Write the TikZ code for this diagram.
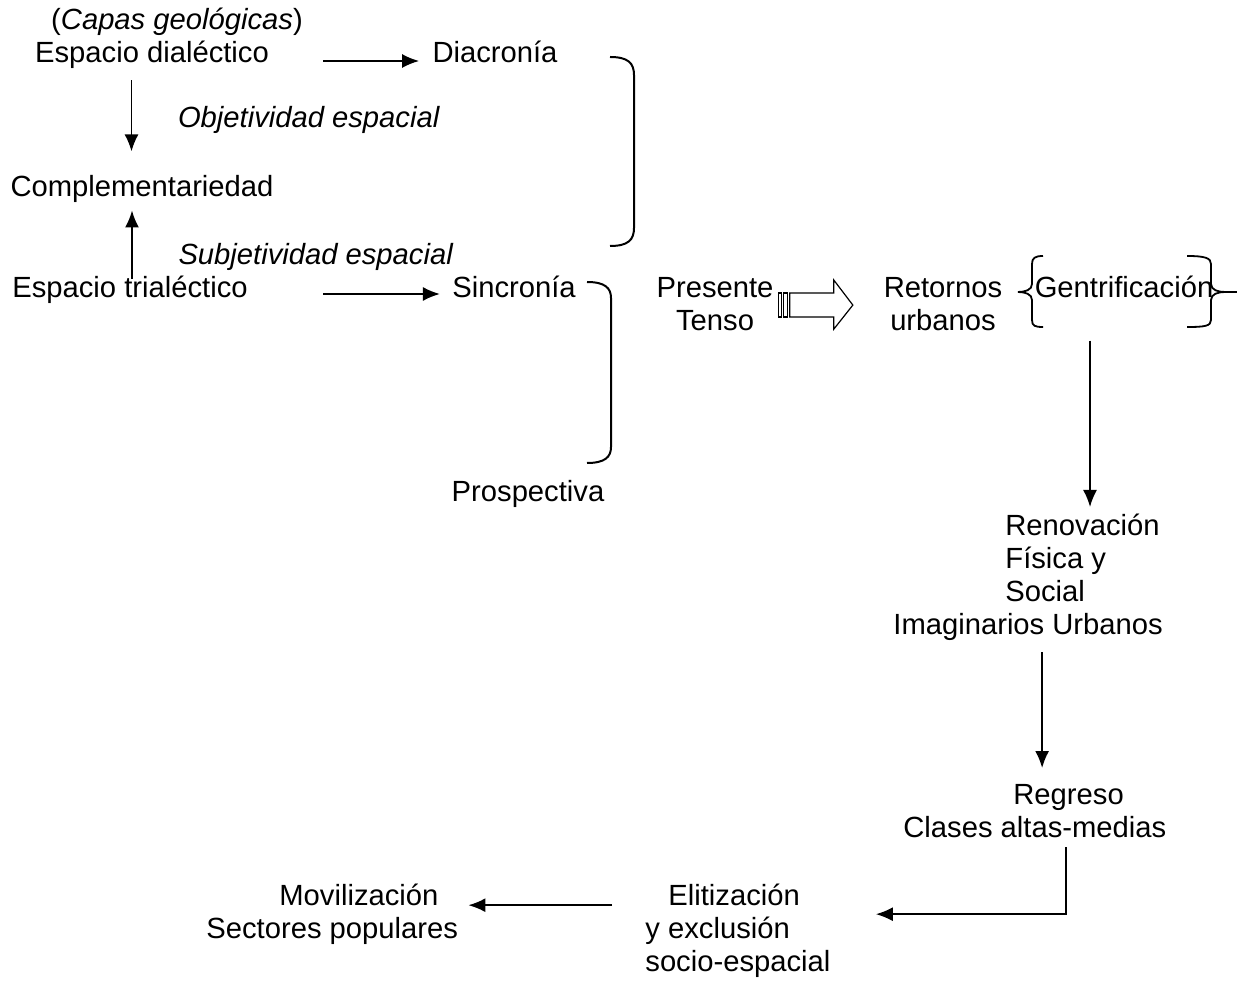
\documentclass[tikz,border=0pt]{standalone}
\usepackage{fontspec}
\setmainfont{Liberation Sans}
\usetikzlibrary{arrows.meta}

\begin{document}
\begin{tikzpicture}[x=0.5pt, y=-0.5pt,
        lbl/.style={inner sep=0pt, font=\fontsize{14.6}{16.5}\selectfont},
        multi/.style={lbl, align=left, anchor=north west},
        arr/.style={-{Latex[length=8.5pt,width=7pt]}, line width=0.9pt},
        brack/.style={line width=1pt}]

        \useasboundingbox (0,0) rectangle (1241,983);

        % left column
        \node[lbl, anchor=base] (capas) at (177,30) {(\textit{Capas geológicas})};
        \node[lbl, anchor=base] (dialect) at (152,63) {Espacio dialéctico};
        \node[lbl, anchor=base] (objet) at (309,128) {\textit{Objetividad espacial}};
        \node[lbl, anchor=base] (compl) at (142,197) {Complementariedad};
        \node[lbl, anchor=base] (subjet) at (316,265) {\textit{Subjetividad espacial}};
        \node[lbl, anchor=base] (trial) at (130,298) {Espacio trialéctico};

        % time
        \node[lbl, anchor=base] (diacr) at (495,63) {Diacronía};
        \node[lbl, anchor=base] (sincr) at (514,298) {Sincronía};
        \node[lbl, anchor=base] (prosp) at (528,502) {Prospectiva};

        % presente tenso
        \node[lbl, align=center, anchor=north] (pres) at (715,277) {Presente\\Tenso};
        \node[lbl, align=center, anchor=north] (retor) at (943,277) {Retornos\\urbanos};
        \node[lbl, anchor=base] (gentr) at (1124,298) {Gentrificación};

        % right column
        \node[multi] (renov) at (893,514) {\hspace*{56pt}Renovación\\\hspace*{56pt}Física y\\\hspace*{56pt}Social\\Imaginarios Urbanos};
        \node[multi] (regr) at (903,784) {\hspace*{55pt}Regreso\\Clases altas-medias};

        % bottom row
        \node[multi] (elit) at (645,884) {\hspace*{11.5pt}Elitización\\y exclusión\\socio-espacial};
        \node[multi] (movil) at (206,884) {\hspace*{36.5pt}Movilización\\Sectores populares};

        % arrows left
        \draw[arr] ([xshift=27pt,yshift=1pt]dialect.base east) -- ([xshift=-6.5pt,yshift=1pt]diacr.base west);
        \draw[arr] ([xshift=37.5pt,yshift=2pt]trial.base east) -- ([xshift=-6pt,yshift=2pt]sincr.base west);
        \draw[arr] ([xshift=-10.25pt,yshift=-5.5pt]dialect.south) coordinate (d1) -- ([yshift=12pt]compl.north -| d1);
        \draw[arr] ([xshift=1pt,yshift=-1.5pt]trial.north) coordinate (t1) -- ([yshift=-3.5pt]compl.south -| t1);

        % brackets
        \draw[brack] (610,57) .. controls (628,57) and (634,63) .. (634,75) -- (634,228)
            .. controls (634,240) and (628,246) .. (610,246);
        \draw[brack] (587,282) .. controls (605,282) and (611,288) .. (611,298) -- (611,447)
            .. controls (611,457) and (605,463) .. (587,463);

        % braces round Gentrificacion
        \draw[line width=0.9pt] (1043,256) .. controls (1035,256) and (1032,258) .. (1032,264) -- (1032,284)
            .. controls (1032,290) and (1025,292) .. (1018,292)
            .. controls (1025,292) and (1032,294) .. (1032,300) -- (1032,320)
            .. controls (1032,326) and (1035,327) .. (1043,327);
        \draw[line width=0.9pt] (1187,256) .. controls (1205,256) and (1211,258) .. (1211,264) -- (1211,284)
            .. controls (1211,290) and (1218,292) .. (1225,292)
            .. controls (1218,292) and (1211,294) .. (1211,300) -- (1211,320)
            .. controls (1211,326) and (1205,327) .. (1187,327);
        \draw[line width=0.9pt] (1225,292) -- (1237,292);

        % striped arrow
        \begin{scope}[shift={(pres.east)}, line width=0.6pt]
            \draw (5,-11) rectangle (8,13);
            \draw (10,-11) rectangle (14,13);
            \draw (16,-11) -- (60,-11) -- (60,-24) -- (79,1) -- (60,25) -- (60,13) -- (16,13) -- cycle;
        \end{scope}

        % arrows right
        \draw[arr] ([xshift=-17pt,yshift=-21pt]gentr.south) coordinate (g1) -- ([yshift=3.5pt]renov.north -| g1);
        \draw[arr] ([xshift=7pt,yshift=-5.5pt]renov.south) coordinate (r1) -- ([yshift=8pt]regr.north -| r1);
        \draw[arr] ([xshift=15.75pt,yshift=-4.5pt]regr.south) |- ([xshift=22.5pt,yshift=8.5pt]elit.east);
        \draw[arr] ([xshift=-16.5pt,yshift=13pt]elit.west) coordinate (e1) -- ([xshift=5pt]movil.east |- e1);

    \end{tikzpicture}
\end{document}
